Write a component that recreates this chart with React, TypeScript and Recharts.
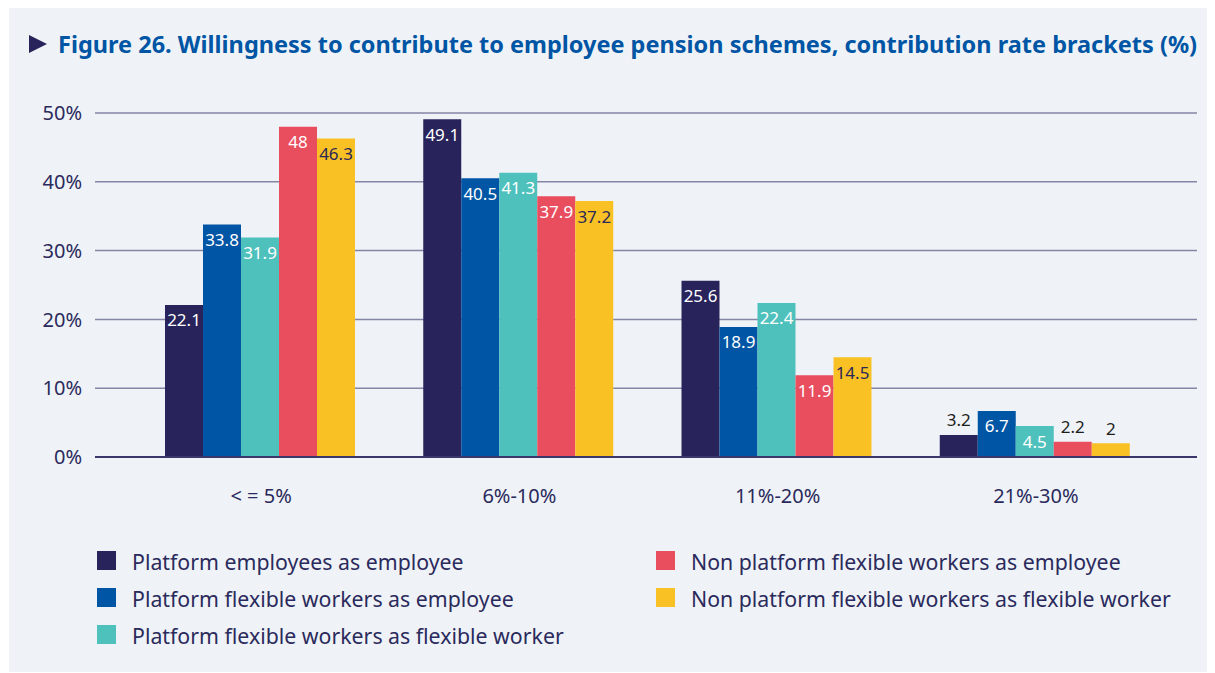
import React from "react";
import { BarChart, Bar, XAxis, YAxis, CartesianGrid, LabelList } from "recharts";

const categories = ["< = 5%", "6%-10%", "11%-20%", "21%-30%"];
const platformEmployeesAsEmployee = [22.1, 49.1, 25.6, 3.2];
const platformFlexAsEmployee = [33.8, 40.5, 18.9, 6.7];
const platformFlexAsFlex = [31.9, 41.3, 22.4, 4.5];
const nonPlatformFlexAsEmployee = [48, 37.9, 11.9, 2.2];
const nonPlatformFlexAsFlex = [46.3, 37.2, 14.5, 2];
const yTicks = [0, 10, 20, 30, 40, 50];

const seriesNames = [
  "Platform employees as employee",
  "Platform flexible workers as employee",
  "Platform flexible workers as flexible worker",
  "Non platform flexible workers as employee",
  "Non platform flexible workers as flexible worker",
];
const seriesValues = [
  platformEmployeesAsEmployee,
  platformFlexAsEmployee,
  platformFlexAsFlex,
  nonPlatformFlexAsEmployee,
  nonPlatformFlexAsFlex,
];
const seriesColors = ["#28235a", "#0055a4", "#4fc1bd", "#e94e5f", "#fac124"];
const labelColors = ["#ffffff", "#ffffff", "#ffffff", "#ffffff", "#2a2858"];

const data = categories.map((c, i) => {
  const row: any = { category: c };
  seriesValues.forEach((vals, s) => {
    row["s" + s] = vals[i];
  });
  return row;
});

const FONT = "'Noto Sans', 'Open Sans', sans-serif";
const TEXT = "#2b2a5c";

const makeLabel = (s: number) => (props: any) => {
  const { x, y, width, value } = props;
  const v = Number(value);
  const inside = v >= 4;
  const cy = inside ? y + 15 : y - 15;
  return (
    <text
      x={x + width / 2}
      y={cy}
      textAnchor="middle"
      dominantBaseline="central"
      fontFamily={FONT}
      fontSize={17}
      fill={inside ? labelColors[s] : "#1d1d1b"}
    >
      {String(value)}
    </text>
  );
};

export default function App() {
  return (
    <div
      style={{
        position: "relative",
        marginTop: -3,
        marginLeft: 1,
        width: 1206,
        height: 667,
        background: "#eff3f7",
        fontFamily: FONT,
      }}
    >
      <svg style={{ position: "absolute", left: 0, top: 0 }} width={60} height={60}>
        <polygon points="20,30 38,39 20,48" fill="#28235a" />
      </svg>
      <div
        style={{
          position: "absolute",
          left: 49,
          top: 24,
          fontSize: 23.5,
          fontWeight: 700,
          color: "#0055a4",
          lineHeight: "30px",
          whiteSpace: "nowrap",
        }}
      >
        Figure 26. Willingness to contribute to employee pension schemes, contribution rate brackets (%)
      </div>
      <div style={{ position: "absolute", left: 0, top: 0 }}>
        <BarChart
          width={1206}
          height={530}
          data={data}
          margin={{ top: 108, right: 18, bottom: 0, left: 0 }}
          barCategoryGap={33}
          barGap={0}
        >
          <CartesianGrid vertical={false} stroke="#8486a6" strokeWidth={1.5} />
          <XAxis
            dataKey="category"
            height={78}
            tickLine={false}
            axisLine={{ stroke: "#3a386a", strokeWidth: 2 }}
            tickMargin={26}
            padding={{ left: 37, right: 32 }}
            tick={{ fill: TEXT, fontSize: 20, fontFamily: FONT }}
          />
          <YAxis
            width={86}
            domain={[0, 50]}
            ticks={yTicks}
            tickFormatter={(v: number) => v + "%"}
            tickLine={false}
            axisLine={false}
            tickMargin={7}
            tick={{ fill: TEXT, fontSize: 20, fontFamily: FONT }}
          />
          {seriesNames.map((name, s) => (
            <Bar
              key={name}
              dataKey={"s" + s}
              name={name}
              fill={seriesColors[s]}
              isAnimationActive={false}
            >
              <LabelList dataKey={"s" + s} content={makeLabel(s)} />
            </Bar>
          ))}
        </BarChart>
      </div>
      {seriesNames.map((name, s) => {
        const col = s < 3 ? 0 : 1;
        const row = s < 3 ? s : s - 3;
        const left = col === 0 ? 88 : 647;
        const top = 546 + row * 37;
        return (
          <div key={name} style={{ position: "absolute", left, top, height: 19 }}>
            <div
              style={{
                position: "absolute",
                left: 0,
                top: 0,
                width: 19,
                height: 19,
                background: seriesColors[s],
              }}
            />
            <div
              style={{
                position: "absolute",
                left: 35,
                top: -3,
                fontSize: 21.3,
                lineHeight: "28px",
                color: TEXT,
                whiteSpace: "nowrap",
              }}
            >
              {name}
            </div>
          </div>
        );
      })}
    </div>
  );
}
